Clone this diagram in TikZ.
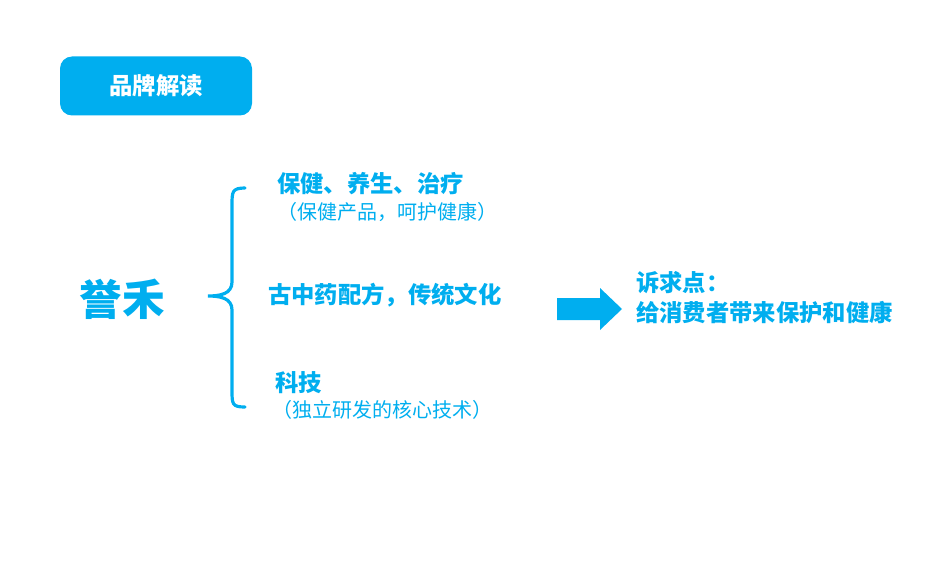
\documentclass[tikz,border=0pt]{standalone}
\usepackage{fontspec}
\setmainfont{Noto Sans CJK SC}
\definecolor{cy}{RGB}{0,174,239}
\begin{document}
\begin{tikzpicture}[x=0.75pt,y=-0.75pt,
  bt/.style={font=\fontsize{17.5}{20}\selectfont\bfseries,text=cy,anchor=west,inner sep=0},
  nt/.style={font=\fontsize{15}{17}\selectfont,text=cy,anchor=west,inner sep=0}]
\useasboundingbox (0,0) rectangle (950,563);
\node[fill=cy,rounded corners=9pt,minimum width=192*0.75pt,minimum height=59*0.75pt,
  text=white,font=\fontsize{17.5}{20}\selectfont\bfseries] (title) at (156,86) {品牌解读};
\node[text=cy,font=\fontsize{32}{36}\selectfont\bfseries] (brand) at (122,299) {誉禾};
\coordinate (btop) at (245,188);
\coordinate (bbot) at (245,407);
\coordinate (btip) at (208,296);
\draw[cy,line width=2.4pt,line cap=round]
  (btop) .. controls (232,188) and (232,192) .. (232,205) -- (232,282)
  .. controls (232,294) and (220,296) .. (btip)
  .. controls (220,296) and (232,298) .. (232,310) -- (232,390)
  .. controls (232,404) and (232,407) .. (bbot);
\node[bt] (a1) at (277,184) {保健、养生、治疗};
\node[nt] (a2) at (277,212) {（保健产品，呵护健康）};
\node[bt] (b1) at (268,295) {古中药配方，传统文化};
\node[bt] (c1) at (275,383) {科技};
\node[nt] (c2) at (272,410) {（独立研发的核心技术）};
\fill[cy] (557,298) -- (600,298) -- (600,288) -- (622,309) -- (600,330) -- (600,320) -- (557,320) -- cycle;
\node[bt] (d1) at (636,283) {诉求点：};
\node[bt] (d2) at (636,313) {给消费者带来保护和健康};
\end{tikzpicture}
\end{document}
